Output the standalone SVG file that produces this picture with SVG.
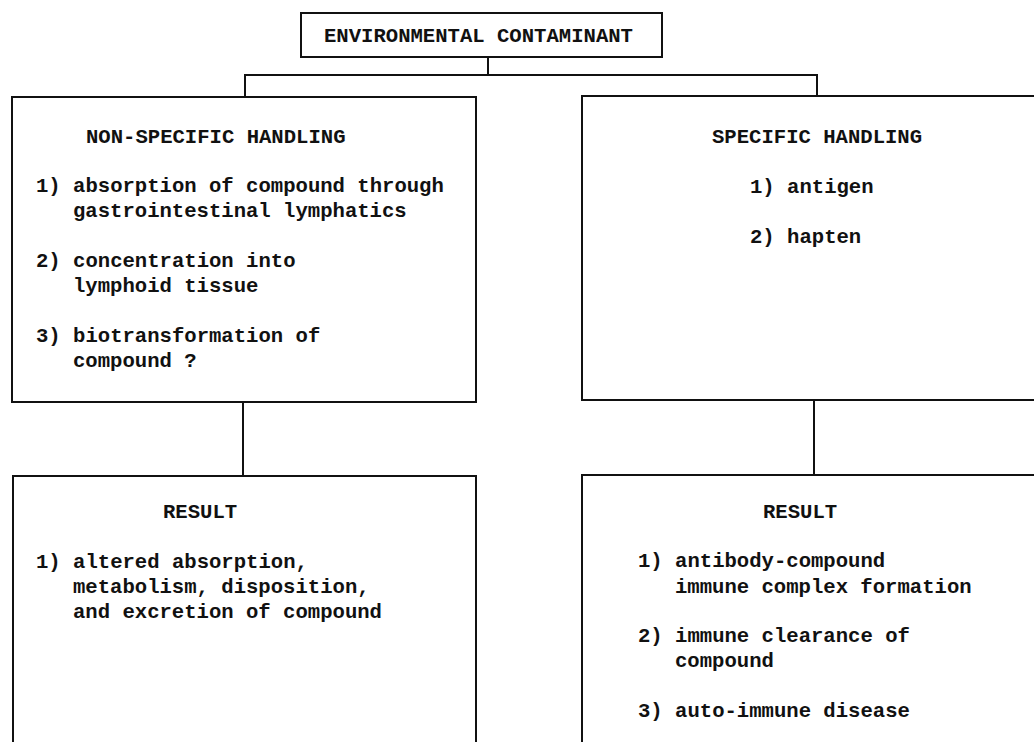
<svg xmlns="http://www.w3.org/2000/svg" width="1034" height="742" viewBox="0 0 1034 742">
<style>
.box{fill:none;stroke:#111;stroke-width:2}
.con{fill:none;stroke:#111;stroke-width:2}
text{font-family:"Liberation Mono","DejaVu Sans Mono",monospace;font-size:20.6px;font-weight:bold;fill:#111}
</style>
<rect width="1034" height="742" fill="#fff"/>
<g id="connectors">
<path class="con" d="M488 57V75M244 75H818M245 75V97M817 75V96"/>
<path class="con" d="M243 402V476"/>
<path class="con" d="M814 400V475"/>
</g>
<g id="node-contaminant">
<rect class="box" x="301" y="13" width="361" height="44"/>
<text x="324" y="42">ENVIRONMENTAL CONTAMINANT</text>
</g>
<g id="node-nonspecific">
<rect class="box" x="12" y="97" width="464" height="305"/>
<text x="86" y="143">NON-SPECIFIC HANDLING</text>
<text x="36" y="192">1) absorption of compound through</text>
<text x="73" y="217">gastrointestinal lymphatics</text>
<text x="36" y="267">2) concentration into</text>
<text x="73" y="292">lymphoid tissue</text>
<text x="36" y="342">3) biotransformation of</text>
<text x="73" y="367">compound ?</text>
</g>
<g id="node-specific">
<rect class="box" x="582" y="96" width="470" height="304"/>
<text x="712" y="143">SPECIFIC HANDLING</text>
<text x="750" y="193">1) antigen</text>
<text x="750" y="243">2) hapten</text>
</g>
<g id="node-result-left">
<path class="box" d="M13 750V476H476V750"/>
<text x="163" y="518">RESULT</text>
<text x="36" y="568">1) altered absorption,</text>
<text x="73" y="593">metabolism, disposition,</text>
<text x="73" y="618">and excretion of compound</text>
</g>
<g id="node-result-right">
<path class="box" d="M582 750V475H1040"/>
<text x="763" y="518">RESULT</text>
<text x="638" y="567">1) antibody-compound</text>
<text x="675" y="593">immune complex formation</text>
<text x="638" y="642">2) immune clearance of</text>
<text x="675" y="667">compound</text>
<text x="638" y="717">3) auto-immune disease</text>
</g>
</svg>
